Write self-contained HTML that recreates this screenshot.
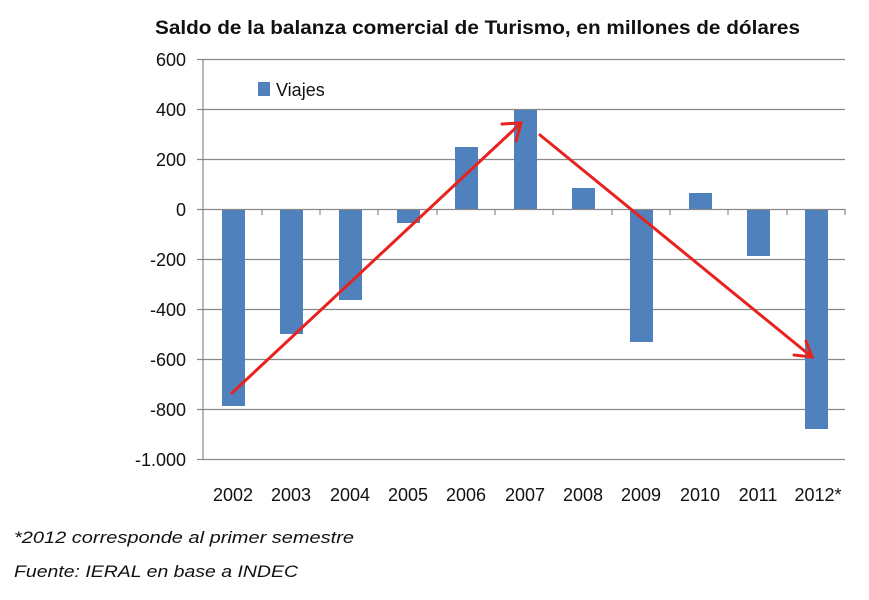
<!DOCTYPE html>
<html><head><meta charset="utf-8"><style>
body{margin:0;background:#fff;width:869px;height:600px;overflow:hidden}
svg{display:block}
</style></head><body>
<svg width="869" height="600" xmlns="http://www.w3.org/2000/svg" font-family="Liberation Sans, sans-serif">
<text x="155" y="34" textLength="645" lengthAdjust="spacingAndGlyphs" font-size="19" font-weight="bold" fill="#111">Saldo de la balanza comercial de Turismo, en millones de dólares</text>
<g stroke="#888" stroke-width="1.2">
<line x1="203" y1="59.5" x2="845" y2="59.5"/>
<line x1="203" y1="109.5" x2="845" y2="109.5"/>
<line x1="203" y1="159.5" x2="845" y2="159.5"/>
<line x1="203" y1="259.5" x2="845" y2="259.5"/>
<line x1="203" y1="309.5" x2="845" y2="309.5"/>
<line x1="203" y1="359.5" x2="845" y2="359.5"/>
<line x1="203" y1="409.5" x2="845" y2="409.5"/>
<line x1="203" y1="459.5" x2="845" y2="459.5"/>
<line x1="203" y1="59" x2="203" y2="460"/>
<line x1="197" y1="59.5" x2="203" y2="59.5"/>
<line x1="197" y1="109.5" x2="203" y2="109.5"/>
<line x1="197" y1="159.5" x2="203" y2="159.5"/>
<line x1="197" y1="209.5" x2="203" y2="209.5"/>
<line x1="197" y1="259.5" x2="203" y2="259.5"/>
<line x1="197" y1="309.5" x2="203" y2="309.5"/>
<line x1="197" y1="359.5" x2="203" y2="359.5"/>
<line x1="197" y1="409.5" x2="203" y2="409.5"/>
<line x1="197" y1="459.5" x2="203" y2="459.5"/>
</g>
<g font-size="18" fill="#111" text-anchor="end">
<text x="186" y="66">600</text><text x="186" y="116">400</text><text x="186" y="166">200</text>
<text x="186" y="216">0</text><text x="186" y="266">-200</text><text x="186" y="316">-400</text>
<text x="186" y="366">-600</text><text x="186" y="416">-800</text><text x="186" y="466">-1.000</text>
</g>
<g fill="#4F81BD">
<rect x="222" y="209" width="23" height="197"/>
<rect x="280" y="209" width="23" height="125"/>
<rect x="339" y="209" width="23" height="91"/>
<rect x="397" y="209" width="23" height="14"/>
<rect x="455" y="147" width="23" height="62"/>
<rect x="514" y="110" width="23" height="99"/>
<rect x="572" y="188" width="23" height="21"/>
<rect x="630" y="209" width="23" height="133"/>
<rect x="689" y="193" width="23" height="16"/>
<rect x="747" y="209" width="23" height="47"/>
<rect x="805" y="209" width="23" height="220"/>
<rect x="258" y="82" width="12" height="14"/>
</g>
<line x1="203" y1="209.5" x2="845" y2="209.5" stroke="#888" stroke-width="1.2"/>
<g stroke="#888" stroke-width="1.2">
<line x1="262" y1="209" x2="262" y2="215"/><line x1="320" y1="209" x2="320" y2="215"/>
<line x1="378" y1="209" x2="378" y2="215"/><line x1="437" y1="209" x2="437" y2="215"/>
<line x1="495" y1="209" x2="495" y2="215"/><line x1="553" y1="209" x2="553" y2="215"/>
<line x1="612" y1="209" x2="612" y2="215"/><line x1="670" y1="209" x2="670" y2="215"/>
<line x1="728" y1="209" x2="728" y2="215"/><line x1="787" y1="209" x2="787" y2="215"/>
<line x1="845" y1="209" x2="845" y2="215"/>
</g>
<text x="276" y="96" font-size="18" fill="#111">Viajes</text>
<g font-size="18" fill="#111" text-anchor="middle">
<text x="233" y="501">2002</text><text x="291" y="501">2003</text><text x="350" y="501">2004</text>
<text x="408" y="501">2005</text><text x="466" y="501">2006</text><text x="525" y="501">2007</text>
<text x="583" y="501">2008</text><text x="641" y="501">2009</text><text x="700" y="501">2010</text>
<text x="758" y="501">2011</text><text x="818" y="501">2012*</text>
</g>
<g stroke="#e8231f" stroke-width="3" fill="none" stroke-linecap="round">
<line x1="232" y1="393" x2="521" y2="123"/>
<polyline points="502,124 521,123 516,141"/>
<line x1="540" y1="135" x2="812" y2="357"/>
<polyline points="794,355 812,357 806,341"/>
</g>
<g font-size="17" font-style="italic" fill="#111">
<text x="14" y="543" textLength="340" lengthAdjust="spacingAndGlyphs">*2012 corresponde al primer semestre</text>
<text x="14" y="577" textLength="284" lengthAdjust="spacingAndGlyphs">Fuente: IERAL en base a INDEC</text>
</g>
</svg>
</body></html>
